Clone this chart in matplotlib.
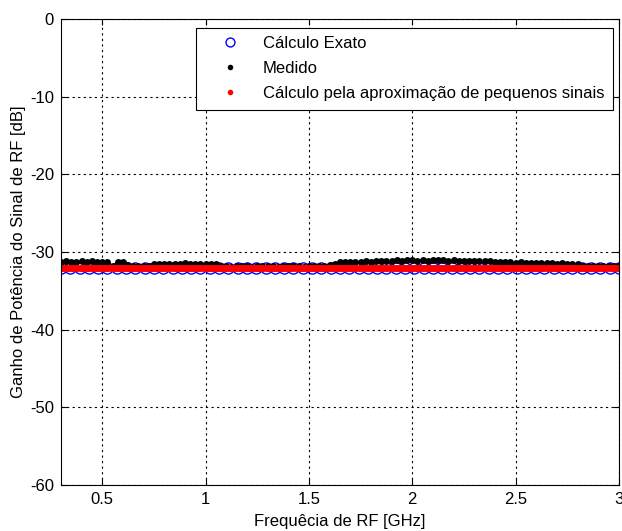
import numpy as np
import matplotlib.pyplot as plt

plt.rcParams['font.family'] = ['Liberation Sans', 'DejaVu Sans']
plt.rcParams['font.size'] = 12
plt.rcParams['axes.unicode_minus'] = False

# frequency grids (GHz)
freq_exact = np.arange(0.3, 3.0001, 0.045)
freq_small = np.arange(0.3, 3.0001, 0.01)
freq_meas = np.arange(0.3, 3.0001, 0.025)

# gain values (dB)
exact_db = -32.0
small_db = -32.05
meas_db = [
    -31.3, -31.2, -31.3, -31.25, -31.2, -31.3, -31.2, -31.3, -31.35, -31.3,
    -31.8, -31.3, -31.3, -31.7, -31.8, -31.8, -31.75, -31.8,
    -31.6, -31.5, -31.6, -31.5, -31.55, -31.5, -31.45, -31.5, -31.5, -31.55,
    -31.5, -31.5, -31.6,
    -31.8, -31.85, -31.9, -31.85, -31.8, -31.85, -31.9, -31.85, -31.85, -31.8,
    -31.85, -31.9, -31.85, -31.8, -31.85, -31.85, -31.9, -31.85, -31.8, -31.85,
    -31.8, -31.7, -31.5,
    -31.3, -31.35, -31.3, -31.25, -31.3, -31.2, -31.25, -31.2,
    -31.1, -31.15, -31.1, -31.05, -31.1, -31.0, -31.05, -31.1, -31.05, -31.1,
    -31.0, -31.05, -31.0, -31.1, -31.05, -31.1, -31.1, -31.15, -31.1, -31.2,
    -31.15, -31.2,
    -31.3, -31.3, -31.35, -31.3, -31.4, -31.35, -31.4, -31.45, -31.4, -31.4,
    -31.45, -31.4, -31.5, -31.45, -31.5, -31.5, -31.55,
    -31.85, -31.85, -31.8, -31.85, -31.85, -31.8, -31.85, -31.85,
]

x_ticks = [0.5, 1, 1.5, 2, 2.5, 3]
x_labels = ['0.5', '1', '1.5', '2', '2.5', '3']
y_ticks = [-60, -50, -40, -30, -20, -10, 0]

fig = plt.figure(figsize=(6.22, 5.31), dpi=100)
ax = fig.add_axes([0.098, 0.0866, 0.897, 0.8776])

ax.plot(freq_exact, np.full(len(freq_exact), exact_db), 'o', mfc='none',
        mec='#0000ff', ms=8, mew=1.0, label='Cálculo Exato')
ax.plot(freq_meas, meas_db, 'o', color='black', ms=5, mew=0, label='Medido')
ax.plot(freq_small, np.full(len(freq_small), small_db), 'o', color='red',
        ms=5, mew=0, label='Cálculo pela aproximação de pequenos sinais')

ax.set_xlim(0.3, 3)
ax.set_ylim(-60, 0)
ax.set_xticks(x_ticks)
ax.set_xticklabels(x_labels)
ax.set_yticks(y_ticks)
ax.tick_params(direction='in', top=True, right=True, length=4, colors='black',
               labelsize=12, pad=5)
ax.grid(True, color='black', linestyle=(0, (2, 3)), linewidth=0.8)
for s in ax.spines.values():
    s.set_color('black')
    s.set_linewidth(0.8)

ax.set_xlabel('Frequêcia de RF [GHz]', labelpad=5)
ax.set_ylabel('Ganho de Potência do Sinal de RF [dB]', labelpad=3)

leg = ax.legend(loc='upper right', bbox_to_anchor=(0.989, 0.981), numpoints=1,
                fancybox=False, framealpha=1, edgecolor='black',
                fontsize=12, handlelength=3.0, handletextpad=0.5,
                borderpad=0.5, labelspacing=0.6, borderaxespad=0,
                markerscale=0.8)
leg.get_frame().set_linewidth(0.8)

fig.savefig('out.png', dpi=100)
